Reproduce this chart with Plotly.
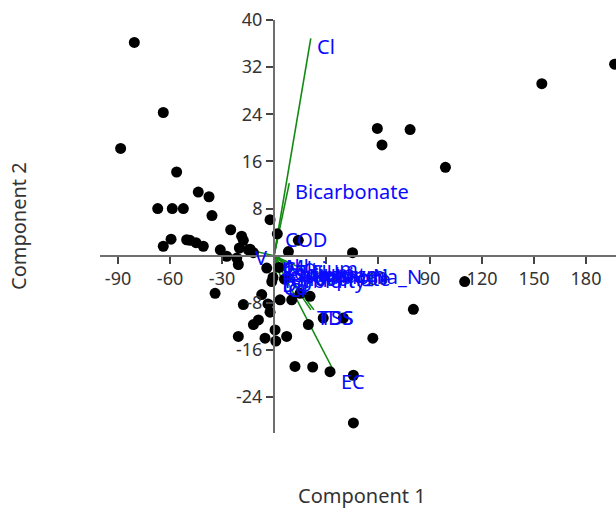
import plotly.graph_objects as go

# ---- data: sample scores (Component 1, Component 2) ----
score_x = [-80.6, -63.9, -88.5, -56.2, -67.1, -58.7, -52.3, -43.7, -37.5, -35.8,
           -63.9, -59.4, -50.4, -48.5, -45.0, -40.8, -31.0, -25.0, -18.7, -17.7,
           -20.0, -13.8, -2.3, 1.9, 14.0, 8.3, 45.3, 59.6, 62.3, 78.5,
           98.9, 154.5, 196.5, 110.0, -27.3, -21.5, -20.6, -14.8, -11.9, -4.2,
           -34.0, -17.7, -7.1, -3.5, -2.3, -11.9, -9.0, -20.6, -5.2, 0.6,
           1.0, 7.3, 3.5, 10.2, -1.3, 20.8, 19.8, 28.4, 40.0, 12.1,
           22.3, 32.3, 45.8, 45.8, 57.0, 80.4, -0.6, 15.0, 3.0, 6.0]
score_y = [36.2, 24.3, 18.2, 14.2, 8.0, 8.0, 8.0, 10.8, 10.0, 6.8,
           1.6, 2.8, 2.7, 2.6, 2.2, 1.6, 1.0, 4.4, 3.3, 2.6,
           1.3, 1.1, 6.1, 3.7, 2.6, 0.7, 0.5, 21.6, 18.8, 21.4,
           15.0, 29.2, 32.5, -4.4, -0.1, -0.4, -1.5, 1.0, 0.5, -2.1,
           -6.4, -8.3, -6.6, -8.2, -9.6, -11.7, -10.9, -13.7, -14.0, -12.6,
           -14.5, -13.7, -7.5, -7.5, -4.4, -6.9, -11.7, -10.6, -10.6, -18.8,
           -18.9, -19.7, -20.3, -28.4, -14.0, -9.1, -3.7, -6.4, -2.0, -4.0]

# ---- data: variable loadings (scaled) ----
load_names = ["Cl", "Bicarbonate", "COD", "V", "EC", "TDS", "TSS",
              "pH", "Mg", "Calcium", "Sodium", "Potassium", "Sulphate",
              "Nitrate_N", "Ammonia_N", "Phosphate", "Turbidity", "DO", "Cd", "Cr"]
load_x = [21.2, 8.8, 2.9, -14.5, 35.2, 21.3, 23.0,
          1.0, 3.5, 1.5, 2.0, 4.0, 8.0,
          11.0, 15.5, 5.5, 1.2, 1.0, 1.5, 4.5]
load_y = [36.9, 12.3, 4.1, 1.0, -20.0, -9.2, -9.2,
          -0.3, -0.4, -0.9, -1.5, -1.9, -1.9,
          -2.0, -2.1, -2.5, -2.9, -3.6, -4.1, -4.3]

x_ticks = [-90, -60, -30, 30, 60, 90, 120, 150, 180]
y_ticks = [-24, -16, -8, 8, 16, 24, 32, 40]

x_range = [-100.4, 197.3]
y_range = [-30.1, 40.0]

FONT = "Noto Sans"

fig = go.Figure()

for nx, ny in zip(load_x, load_y):
    fig.add_trace(go.Scatter(
        x=[0, nx], y=[0, ny], mode="lines",
        line=dict(color="#138a13", width=1.6),
        hoverinfo="skip", showlegend=False))

fig.add_trace(go.Scatter(
    x=score_x, y=score_y, mode="markers",
    marker=dict(color="black", size=11, line=dict(width=0)),
    hoverinfo="skip", showlegend=False))

for name, nx, ny in zip(load_names, load_x, load_y):
    fig.add_annotation(x=nx, y=ny, text=name, showarrow=False,
                       xanchor="left", yanchor="middle", xshift=4, yshift=-8,
                       font=dict(family=FONT, size=20, color="#0a0aff"))

x_pos = (0 - y_range[0]) / (y_range[1] - y_range[0])
y_pos = (0 - x_range[0]) / (x_range[1] - x_range[0])

axis_common = dict(showgrid=False, zeroline=False, showline=True,
                   linecolor="#6e6e6e", linewidth=2, ticks="outside",
                   ticklen=7, tickwidth=1.5, tickcolor="#444",
                   tickfont=dict(family=FONT, size=18, color="#333"))

fig.update_layout(
    width=616, height=511,
    margin=dict(l=100, r=0, t=20, b=78),
    paper_bgcolor="white", plot_bgcolor="white",
    xaxis=dict(range=x_range, tickvals=x_ticks,
               ticktext=[str(v) for v in x_ticks],
               anchor="free", position=x_pos, **axis_common),
    yaxis=dict(range=y_range, tickvals=y_ticks,
               ticktext=[str(v) for v in y_ticks],
               anchor="free", position=y_pos, **axis_common),
    showlegend=False,
)

fig.add_annotation(x=(362 - 100) / 516, y=(433 - 496) / 415,
                   xref="paper", yref="paper", xanchor="center", yanchor="middle",
                   text="Component 1", showarrow=False,
                   font=dict(family=FONT, size=20, color="#333"))
fig.add_annotation(x=(18 - 100) / 516, y=(433 - 225) / 415,
                   xref="paper", yref="paper", xanchor="center", yanchor="middle",
                   text="Component 2", showarrow=False, textangle=-90,
                   font=dict(family=FONT, size=20, color="#333"))

fig.write_html("out.html")
